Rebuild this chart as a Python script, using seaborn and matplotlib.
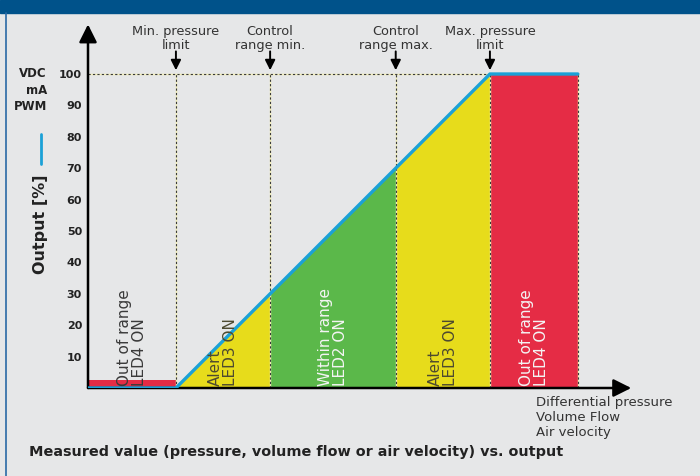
# Output vs. measured value diagram
import numpy as np
import matplotlib
matplotlib.use("Agg")
import matplotlib.pyplot as plt
import seaborn as sns

# Output curve (x = % of range between min. and max. pressure limit)
output_x = [-28, 0, 100, 128]
output_y = [0, 0, 100, 100]

# Limits marked above the chart
limit_x = [0, 30, 70, 100]
limit_labels = ["Min. pressure\nlimit", "Control\nrange min.",
                "Control\nrange max.", "Max. pressure\nlimit"]

# LED zones
zone_start = [-28, 0, 30, 70, 100]
zone_end = [0, 30, 70, 100, 128]
zone_colors = ["#e52c45", "#e7dc1b", "#5bb84a", "#e7dc1b", "#e52c45"]
zone_labels = ["Out of range\nLED4 ON", "Alert\nLED3 ON", "Within range\nLED2 ON",
               "Alert\nLED3 ON", "Out of range\nLED4 ON"]
zone_text_colors = ["#3a3a3a", "#4d4a30", "#f4f4f4", "#4d4a30", "#f4f4f4"]
low_bar_height = 2.5

y_ticks = [10, 20, 30, 40, 50, 60, 70, 80, 90, 100]

bg = "#e6e7e8"
blue = "#1ba1d7"
text_col = "#333333"

sns.set_theme(style="white", rc={"axes.facecolor": "none", "figure.facecolor": bg})
plt.rcParams["font.family"] = ["DejaVu Sans"]

W, H = 700, 476
fig = plt.figure(figsize=(7, 4.76), dpi=100)
ax = fig.add_axes([88 / W, (H - 388) / H, (640 - 88) / W, (388 - 20) / H])
ax.set_xlim(-28, -28 + 552 / 3.14)
ax.set_ylim(0, 368 / 3.14)

# Header band and left border
fig.patches.append(plt.Rectangle((0, 1 - 13 / H), 1, 13 / H, transform=fig.transFigure,
                                 color="#00528a", zorder=0))
fig.lines.append(plt.Line2D([5.5 / W, 5.5 / W], [0, 1 - 13 / H], transform=fig.transFigure,
                            color="#2a6aa5", lw=1.2))

# Zone fills
for i, (x0, x1) in enumerate(zip(zone_start, zone_end)):
    top = np.interp([x0, x1], output_x, output_y)
    if i == 0:
        top = np.maximum(top, low_bar_height)
    ax.fill_between([x0, x1], 0, top, color=zone_colors[i], lw=0, zorder=1)
    ax.text((x0 + x1) / 2, 0.6, zone_labels[i], rotation=90, ha="center", va="bottom",
            multialignment="left", fontsize=11, linespacing=1.05,
            color=zone_text_colors[i], zorder=5)

# Dotted guide lines
for xv in zone_end:
    ax.plot([xv, xv], [0, 100], color="#f2eeb5", lw=1.0, zorder=2)
    ax.plot([xv, xv], [0, 100], color="#3a3a3a", lw=0.8, ls=(0, (2, 2)), zorder=3)
ax.plot([-28, 100], [100, 100], color="#f2eeb5", lw=1.0, zorder=2)
ax.plot([-28, 100], [100, 100], color="#3a3a3a", lw=0.8, ls=(0, (2, 2)), zorder=3)

# Output curve
sns.lineplot(x=output_x, y=output_y, color=blue, lw=2.4, ax=ax, zorder=4)

# Axis arrows
arrow = dict(arrowstyle="-|>,head_length=0.6,head_width=0.3", mutation_scale=18,
             color="black", lw=1.8, shrinkA=0, shrinkB=0)
ax.annotate("", xy=(-28, 115.8), xytext=(-28, 0), arrowprops=arrow, annotation_clip=False)
ax.annotate("", xy=(145, 0), xytext=(-28, 0), arrowprops=arrow, annotation_clip=False)

# Limit markers
small_arrow = dict(arrowstyle="-|>,head_length=0.5,head_width=0.25", mutation_scale=12,
                   color="black", lw=1.4, shrinkA=0, shrinkB=0)
for xv, lab in zip(limit_x, limit_labels):
    ax.annotate("", xy=(xv, 101.2), xytext=(xv, 107.2), arrowprops=small_arrow,
                annotation_clip=False)
    ax.text(xv, 107.0, lab, ha="center", va="bottom", fontsize=9.3, color=text_col,
            linespacing=1.15)

# Y ticks
ax.set_yticks(y_ticks)
ax.set_yticklabels([str(v) for v in y_ticks], fontsize=8, fontweight="bold", color="#222222")
ax.set_xticks([])
ax.tick_params(axis="y", length=0, pad=4.3)
sns.despine(ax=ax, left=True, bottom=True)

# Left labels
fig.text(47 / W, 1 - 67 / H, "VDC\nmA\nPWM", ha="right", va="top", fontsize=8.5,
         fontweight="bold", color="#222222", linespacing=1.35, multialignment="right")
fig.text(41 / W, 1 - 224 / H, "Output [%]", rotation=90, ha="center", va="center",
         fontsize=11.5, fontweight="bold", color="#222222")
fig.lines.append(plt.Line2D([41 / W, 41 / W], [1 - 164 / H, 1 - 134 / H],
                            transform=fig.transFigure, color=blue, lw=2))

# Bottom labels
fig.text(536 / W, 1 - 396 / H, "Differential pressure\nVolume Flow\nAir velocity",
         ha="left", va="top", fontsize=9.5, color=text_col, linespacing=1.2)
fig.text(29 / W, 1 - 452 / H, "Measured value (pressure, volume flow or air velocity) vs. output",
         ha="left", va="center", fontsize=10.4, fontweight="bold", color="#222222")

fig.savefig("out.png", dpi=100, facecolor=bg)
